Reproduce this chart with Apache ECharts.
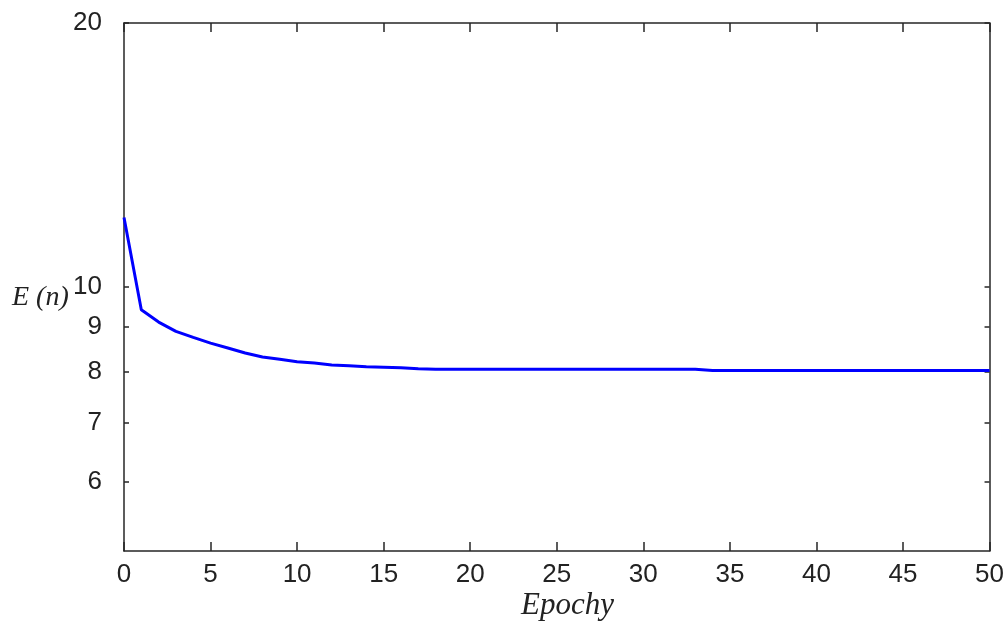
<!DOCTYPE html>
<html>
<head>
<meta charset="utf-8">
<script src="https://cdn.jsdelivr.net/npm/echarts@6/dist/echarts.min.js"></script>
<style>
  html, body { margin: 0; padding: 0; background: #fff; }
  #chart { width: 1007px; height: 621px; }
</style>
</head>
<body>
<div id="chart"></div>
<script>
// Training error E(n) per epoch
const epochs = Array.from({ length: 51 }, (_, i) => i);
const errorValues = [
  12.0, 9.42, 9.12, 8.90, 8.76, 8.63, 8.52, 8.41, 8.32, 8.27,
  8.22, 8.19, 8.15, 8.13, 8.11, 8.10, 8.09, 8.07, 8.06, 8.06,
  8.06, 8.06, 8.06, 8.06, 8.06, 8.06, 8.06, 8.06, 8.06, 8.06,
  8.06, 8.06, 8.06, 8.06, 8.03, 8.03, 8.03, 8.03, 8.03, 8.03,
  8.03, 8.03, 8.03, 8.03, 8.03, 8.03, 8.03, 8.03, 8.03, 8.03,
  8.03
];
const yTicks = [6, 7, 8, 9, 10, 20];

const axisColor = '#262626';
const labelFont = {
  fontFamily: '"Liberation Sans Narrow", "Liberation Sans", sans-serif',
  fontSize: 26,
  color: '#222'
};

const chart = echarts.init(document.getElementById('chart'), null, { renderer: 'canvas' });

function xAxisDef(position, showLabels) {
  return {
    type: 'value',
    position: position,
    min: 0,
    max: 50,
    interval: 5,
    axisLine: { show: true, onZero: false, lineStyle: { color: axisColor, width: 1.5 } },
    axisTick: { show: true, inside: true, length: 9, lineStyle: { color: axisColor, width: 1.5 } },
    axisLabel: Object.assign({ show: showLabels, margin: 11 }, labelFont),
    splitLine: { show: false }
  };
}

function yAxisDef(position, showLabels) {
  return {
    type: 'log',
    logBase: 10,
    position: position,
    min: 5,
    max: 20,
    axisLine: { show: true, onZero: false, lineStyle: { color: axisColor, width: 1.5 } },
    axisTick: { show: true, inside: true, length: 5, customValues: yTicks, lineStyle: { color: axisColor, width: 1.5 } },
    axisLabel: Object.assign({ show: showLabels, margin: 22, customValues: yTicks }, labelFont),
    splitLine: { show: false }
  };
}

chart.setOption({
  animation: false,
  backgroundColor: '#fff',
  grid: { left: 124, right: 14, top: 23, bottom: 70, containLabel: false },
  xAxis: [xAxisDef('bottom', true), xAxisDef('top', false)],
  yAxis: [yAxisDef('left', true), yAxisDef('right', false)],
  graphic: [
    {
      type: 'text',
      left: 12,
      top: 284,
      style: {
        text: 'E (n)',
        font: 'italic 28px "Liberation Serif", serif',
        fill: '#222'
      }
    },
    {
      type: 'text',
      left: 521,
      top: 590,
      style: {
        text: 'Epochy',
        font: 'italic 31px "Liberation Serif", serif',
        fill: '#222'
      }
    }
  ],
  series: [
    {
      type: 'line',
      xAxisIndex: 0,
      yAxisIndex: 0,
      data: epochs.map((e, i) => [e, errorValues[i]]),
      showSymbol: false,
      lineStyle: { color: '#0000ff', width: 3 }
    }
  ]
});
</script>
</body>
</html>
